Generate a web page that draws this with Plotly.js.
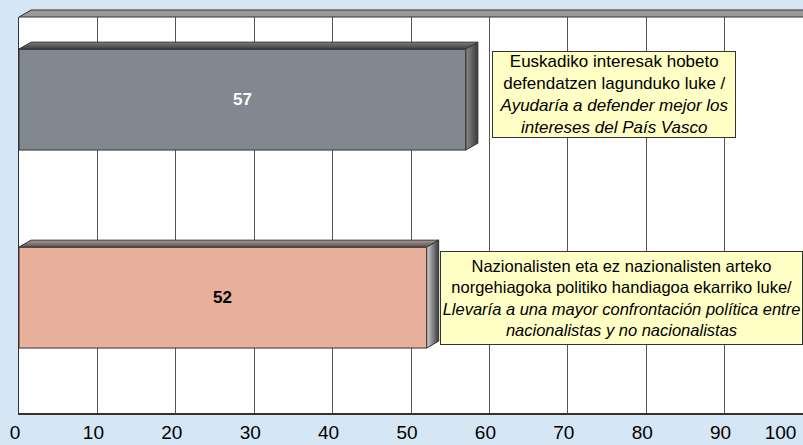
<!DOCTYPE html>
<html>
<head>
<meta charset="utf-8">
<script src="https://cdn.plot.ly/plotly-3.0.1.min.js"></script>
<style>
  html, body { margin: 0; padding: 0; background: #d5e6f4; }
  #chart { width: 803px; height: 445px; }
</style>
</head>
<body>
<div id="chart"></div>
<script>
// ---- data ----
const categories = [
  "Euskadiko interesak hobeto<br>defendatzen lagunduko luke /<br><i>Ayudaría a defender mejor los</i><br><i>intereses del País Vasco</i>",
  "Nazionalisten eta ez nazionalisten arteko<br>norgehiagoka politiko handiagoa ekarriko luke/<br><i>Llevaría a una mayor confrontación política entre</i><br><i>nacionalistas y no nacionalistas</i>"
];
const values = [57, 52];
const xTicks = [0, 10, 20, 30, 40, 50, 60, 70, 80, 90, 100];

// ---- styles ----
const barColors = ["#81888f", "#e8af9b"];
const textColors = ["#ffffff", "#000000"];
const topFaceScales = [
  [[0, "#3f3f3f"], [1, "#7a7a7a"]],
  [[0, "#5a5250"], [1, "#a89a94"]]
];
const sideFaceScales = [
  [[0, "#8a8a8a"], [1, "#3a3a3a"]],
  [[0, "#d0d0d0"], [1, "#3a3a3a"]]
];
const barWidth = 0.51;
const depthX = 1.53;   // depth of 3D faces, in x-units
const depthY = 0.035;  // depth of 3D faces, in y-units
const boxOffsetX = [18.9, 24.9];
const boxOffsetY = [0.025, 0.0];
const boxW = [242, 361];
const boxH = [85, 92];
const boxFont = [17, 16.5];

const n = values.length;
const ypos = values.map((_, i) => n - 1 - i);

const traces = [];
traces.push({
  type: "bar",
  orientation: "h",
  x: values,
  y: ypos,
  width: barWidth,
  marker: { color: barColors, line: { color: "#333333", width: 1 } },
  hoverinfo: "skip",
  showlegend: false
});

values.forEach((v, i) => {
  const y0 = ypos[i] - barWidth / 2;
  const y1 = ypos[i] + barWidth / 2;
  // top face
  traces.push({
    type: "scatter", mode: "lines",
    x: [0, v, v + depthX, depthX, 0],
    y: [y1, y1, y1 + depthY, y1 + depthY, y1],
    fill: "toself",
    fillgradient: { type: "vertical", colorscale: topFaceScales[i] },
    line: { color: "#333333", width: 1 },
    hoverinfo: "skip", showlegend: false
  });
  // side face
  traces.push({
    type: "scatter", mode: "lines",
    x: [v, v + depthX, v + depthX, v, v],
    y: [y0, y0 + depthY, y1 + depthY, y1, y0],
    fill: "toself",
    fillgradient: { type: "horizontal", colorscale: sideFaceScales[i] },
    line: { color: "#333333", width: 1 },
    hoverinfo: "skip", showlegend: false
  });
});

const annotations = categories.map((t, i) => ({
  x: values[i] + boxOffsetX[i],
  y: ypos[i] + boxOffsetY[i],
  xref: "x", yref: "y",
  text: t,
  showarrow: false,
  xanchor: "center", yanchor: "middle",
  align: "center",
  width: boxW[i], height: boxH[i],
  font: { family: "Liberation Sans, Arial, sans-serif", size: boxFont[i], color: "#000000" },
  bgcolor: "#ffffc6",
  bordercolor: "#333333",
  borderwidth: 1,
  borderpad: 0
}));

// value labels in the middle of each bar
values.forEach((v, i) => {
  annotations.push({
    x: v / 2, y: ypos[i], xref: "x", yref: "y",
    text: "<b>" + v + "</b>",
    showarrow: false, xanchor: "center", yanchor: "middle",
    font: { family: "Liberation Sans, Arial, sans-serif", size: 17, color: textColors[i] }
  });
});

// last tick label is nudged left so it stays inside the picture
const tickText = xTicks.map((t, i) =>
  i === xTicks.length - 1 ? String(t) + "&nbsp;".repeat(7) : String(t));

const layout = {
  width: 803, height: 445,
  margin: { l: 19, r: 0, t: 17, b: 32, pad: 0 },
  paper_bgcolor: "#d5e6f4",
  plot_bgcolor: "#ffffff",
  bargap: 0,
  showlegend: false,
  font: { family: "Liberation Sans, Arial, sans-serif" },
  xaxis: {
    range: [0, 100],
    tickvals: xTicks,
    ticktext: tickText,
    showgrid: true, gridcolor: "#555555", gridwidth: 1,
    zeroline: false,
    showline: true, linecolor: "#333333", linewidth: 1.5,
    ticks: "outside", ticklen: 2, tickcolor: "rgba(0,0,0,0)",
    ticklabeloverflow: "allow",
    ticklabelshift: -4,
    tickfont: { size: 19, color: "#000000", family: "Liberation Sans, Arial, sans-serif" },
    fixedrange: true
  },
  yaxis: {
    range: [-0.583, 1.417],
    showticklabels: false, ticks: "",
    showgrid: false, zeroline: false,
    showline: true, linecolor: "#333333", linewidth: 1.5,
    fixedrange: true
  },
  shapes: [
    {
      type: "path", xref: "paper", yref: "paper",
      path: "M 0 1 L 0.0153 1.0177 L 1.02 1.0177 L 1.02 1 Z",
      fillcolor: "#9a9a9a",
      line: { color: "#333333", width: 1 },
      layer: "above"
    }
  ],
  annotations: annotations
};

Plotly.newPlot("chart", traces, layout, { displayModeBar: false, staticPlot: true });
</script>
</body>
</html>
